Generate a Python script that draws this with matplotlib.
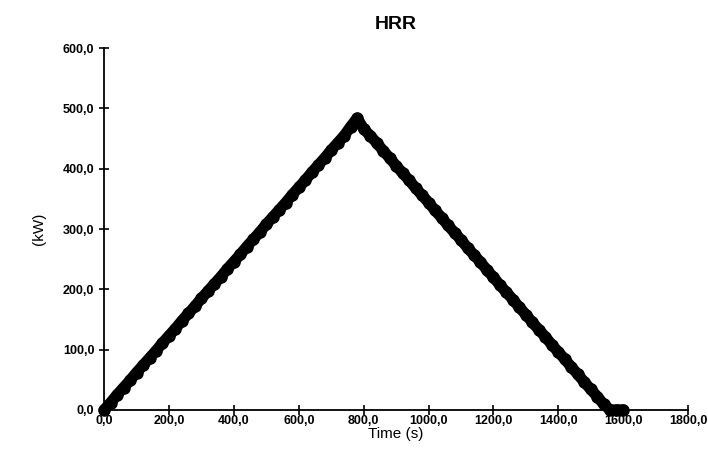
import matplotlib
matplotlib.use("Agg")
import matplotlib.pyplot as plt
from matplotlib.ticker import FuncFormatter, MultipleLocator

plt.rcParams['font.family'] = ['Liberation Sans', 'DejaVu Sans']

# time (s) and heat release rate (kW), every 20 s
time_s = [0, 20, 40, 60, 80, 100, 120, 140, 160, 180,
          200, 220, 240, 260, 280, 300, 320, 340, 360, 380,
          400, 420, 440, 460, 480, 500, 520, 540, 560, 580,
          600, 620, 640, 660, 680, 700, 720, 740, 760, 780,
          800, 820, 840, 860, 880, 900, 920, 940, 960, 980,
          1000, 1020, 1040, 1060, 1080, 1100, 1120, 1140, 1160, 1180,
          1200, 1220, 1240, 1260, 1280, 1300, 1320, 1340, 1360, 1380,
          1400, 1420, 1440, 1460, 1480, 1500, 1520, 1540, 1560, 1580,
          1600]
hrr_kw = [0, 12, 25, 37, 49, 62, 74, 86, 98, 111,
          123, 135, 148, 160, 172, 185, 197, 209, 221, 234,
          246, 258, 271, 283, 295, 308, 320, 332, 344, 357,
          369, 381, 394, 406, 418, 431, 443, 455, 470, 484,
          466, 455, 443, 430, 418, 405, 393, 381, 368, 356,
          344, 331, 319, 306, 294, 282, 269, 257, 245, 232,
          220, 207, 195, 183, 170, 158, 145, 133, 121, 108,
          96, 84, 71, 59, 46, 34, 22, 9, 0, 0,
          0]

fig = plt.figure(figsize=(7.08, 4.59), dpi=100)
ax = fig.add_axes([0.147, 0.107, 0.825, 0.788])

ax.plot(time_s, hrr_kw, color='black', lw=8, solid_capstyle='round',
        solid_joinstyle='round', marker='o', ms=8, mfc='black',
        mec='black', clip_on=False, zorder=3)

ax.set_xlim(0, 1800)
ax.set_ylim(0, 600)
ax.xaxis.set_major_locator(MultipleLocator(200))
ax.yaxis.set_major_locator(MultipleLocator(100))
fmt = FuncFormatter(lambda v, p: f"{v:.1f}".replace('.', ','))
ax.xaxis.set_major_formatter(fmt)
ax.yaxis.set_major_formatter(fmt)

for s in ['top', 'right']:
    ax.spines[s].set_visible(False)
for s in ['left', 'bottom']:
    ax.spines[s].set_linewidth(1.3)
ax.tick_params(direction='inout', length=7, width=1.2, labelsize=9)
ax.tick_params(axis='x', pad=0)
for lab in ax.get_xticklabels() + ax.get_yticklabels():
    lab.set_fontweight('bold')

ax.set_title('HRR', fontsize=14, fontweight='bold', pad=14)
ax.set_xlabel('Time (s)', fontsize=11, labelpad=0)
ax.set_ylabel('(kW)', fontsize=11, labelpad=12)

fig.savefig('out.png', dpi=100)
